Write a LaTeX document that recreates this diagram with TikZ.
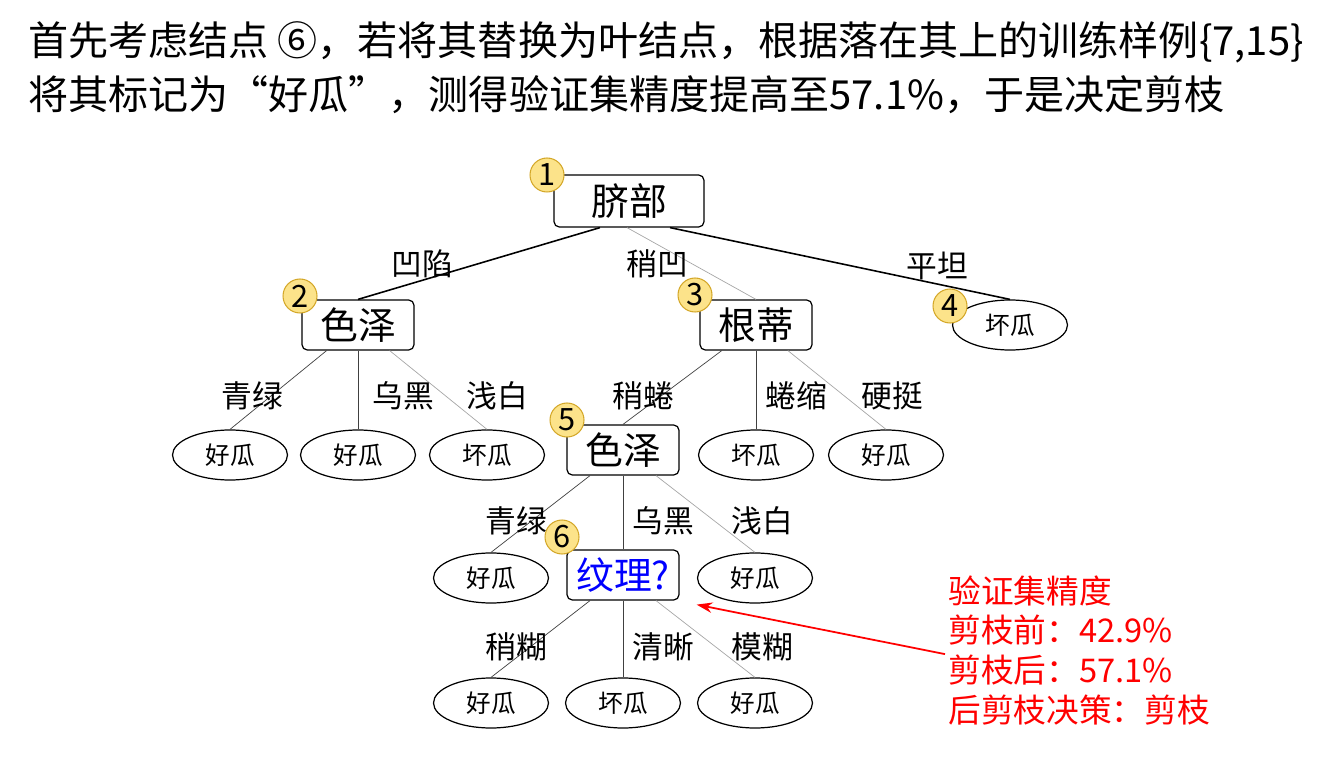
\documentclass[tikz,border=0pt]{standalone}
\usepackage{fontspec}
\setmainfont{Noto Sans CJK SC}
\usetikzlibrary{positioning,arrows.meta,shapes.geometric}
\definecolor{badgefill}{HTML}{FCE38A}
\definecolor{badgeline}{HTML}{D4A82A}
\begin{document}
\begin{tikzpicture}[
  x=0.02cm, y=-0.02cm,
  >=Stealth,
  attr/.style={draw, line width=0.7pt, rounded corners=3pt, minimum width=2.24cm, minimum height=1cm, inner sep=1pt, font=\fontsize{21.5}{24}\selectfont},
  leaf/.style={draw, line width=0.7pt, ellipse, minimum width=2.3cm, minimum height=1cm, inner sep=0pt, font=\fontsize{14}{16}\selectfont},
  labl/.style={inner sep=1pt, font=\fontsize{17.5}{20}\selectfont},
  badge/.style={circle, draw=badgeline, line width=0.6pt, fill=badgefill, minimum size=0.68cm, inner sep=0pt, font=\fontsize{17.5}{18}\selectfont},
  strong/.style={line width=0.9pt},
  weak/.style={line width=0.4pt, gray!70},
  dark/.style={line width=0.4pt, black!75}
]
\useasboundingbox (0,0) rectangle (1343,760);

% title
\node[anchor=west, inner sep=0pt, font=\fontsize{22.8}{26}\selectfont] (title1) at (28,42)
  {首先考虑结点 ⑥，若将其替换为叶结点，根据落在其上的训练样例\{7,15\}};
\node[anchor=west, inner sep=0pt, font=\fontsize{22.8}{26}\selectfont] (title2) at (28,95)
  {将其标记为“好瓜”，测得验证集精度提高至57.1\%，于是决定剪枝};

% nodes (x, y in pixels of the picture)
\node[attr, minimum width=3cm, minimum height=1.04cm] (root) at (629,201) {脐部};

\node[attr] (c2) at (358,325) {色泽};
\node[attr] (c3) at (756,325) {根蒂};
\node[leaf] (c4) at (1010,325) {坏瓜};

\node[leaf] (c2-1) at (230,455) {好瓜};
\node[leaf] (c2-2) at (358,455) {好瓜};
\node[leaf] (c2-3) at (487,455) {坏瓜};

\node[attr] (c5) at (623,450) {色泽};
\node[leaf] (c3-2) at (756,455) {坏瓜};
\node[leaf] (c3-3) at (886,455) {好瓜};

\node[leaf] (c5-1) at (491,578) {好瓜};
\node[attr, text=blue] (c6) at (623,575) {纹理?};
\node[leaf] (c5-3) at (755,578) {好瓜};

\node[leaf] (c6-1) at (491,703) {好瓜};
\node[leaf] (c6-2) at (623,703) {坏瓜};
\node[leaf] (c6-3) at (755,703) {好瓜};

% badges
\node[badge] (b1) at (547,175) {1};
\node[badge] (b2) at (300,296) {2};
\node[badge] (b3) at (695,295) {3};
\node[badge] (b4) at (950,306) {4};
\node[badge] (b5) at (567,420) {5};
\node[badge] (b6) at (562,537) {6};

% edges
\draw[strong] ([xshift=-0.58cm]root.south) -- (c2.north);
\draw[weak] ([xshift=-0.04cm]root.south) -- (c3.north);
\draw[strong] ([xshift=0.82cm]root.south) -- (c4.north);

\draw[dark] (c2) -- (c2-1.north);
\draw[dark] (c2) -- (c2-2.north);
\draw[weak] (c2) -- (c2-3.north);

\draw[dark] (c3) -- (c5.north);
\draw[dark] (c3) -- (c3-2.north);
\draw[weak] (c3) -- (c3-3.north);

\draw[dark] (c5) -- (c5-1.north);
\draw[dark] (c5) -- (c6.north);
\draw[weak] (c5) -- (c5-3.north);

\draw[dark] (c6) -- (c6-1.north);
\draw[dark] (c6) -- (c6-2.north);
\draw[weak] (c6) -- (c6-3.north);

% edge labels
\node[labl] (l1) at (422,264) {凹陷};
\node[labl] (l2) at (657,264) {稍凹};
\node[labl] (l3) at (937,266) {平坦};

\node[labl] (l21) at (252,396) {青绿};
\node[labl] (l22) at (403,396) {乌黑};
\node[labl] (l23) at (497,396) {浅白};

\node[labl] (l31) at (643,396) {稍蜷};
\node[labl] (l32) at (796,396) {蜷缩};
\node[labl] (l33) at (892,396) {硬挺};

\node[labl] (l51) at (516,521) {青绿};
\node[labl] (l52) at (663,521) {乌黑};
\node[labl] (l53) at (762,521) {浅白};

\node[labl] (l61) at (516,647) {稍糊};
\node[labl] (l62) at (663,647) {清晰};
\node[labl] (l63) at (762,647) {模糊};

% validation note
\node[anchor=north west, align=left, text=red, inner sep=0pt, font=\fontsize{18.6}{22.6}\selectfont] (acc) at (948,575)
  {验证集精度\\剪枝前：42.9\%\\剪枝后：57.1\%\\后剪枝决策：剪枝};
\draw[-{Stealth[length=9pt,width=6pt]}, red, line width=1pt] ([xshift=-0.06cm,yshift=-0.08cm]acc.west) -- ([xshift=0.34cm,yshift=-0.08cm]c6.south east);
\end{tikzpicture}
\end{document}
